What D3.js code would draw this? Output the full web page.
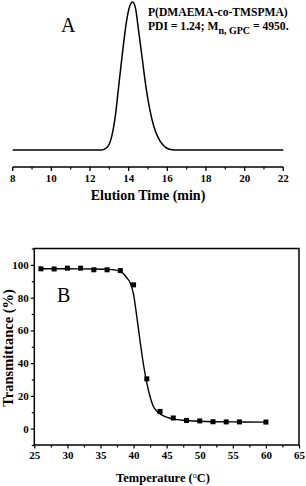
<!DOCTYPE html>
<html>
<head>
<meta charset="utf-8">
<script src="https://cdn.jsdelivr.net/npm/d3@7"></script>
<style>
  body { margin: 0; background: #fff; }
  svg { display: block; }
  text { font-family: "Liberation Serif", "Times New Roman", serif; fill: #000; }
</style>
</head>
<body>
<svg id="chart" width="306" height="486"></svg>
<script>
// panel A: GPC trace (elution time in min, normalised signal)
const gpcTime   = [8, 12.6, 12.9, 13.1, 13.3, 13.5, 13.7, 13.9, 14.05, 14.2, 14.35, 14.5, 14.7, 14.9, 15.1, 15.3, 15.5, 15.8, 16.1, 16.4, 22];
const gpcSignal = [0, 0, 0.02, 0.08, 0.22, 0.45, 0.68, 0.88, 0.97, 1.0, 0.96, 0.82, 0.62, 0.42, 0.27, 0.16, 0.09, 0.03, 0.005, 0, 0];
const gpcTicks  = [8, 10, 12, 14, 16, 18, 20, 22];

// panel B: transmittance vs temperature
const tempPoints  = [26, 28, 30, 32, 34, 36, 38, 40, 42, 44, 46, 48, 50, 52, 54, 56, 60];
const transPoints = [97.6, 97.5, 98, 98, 97, 97, 96.5, 87.8, 30.4, 10.5, 6.5, 5.0, 4.7, 4.2, 4.1, 4.1, 4.0];
const fitTemp  = [26, 30, 34, 36, 37, 38, 38.5, 39, 39.5, 40, 40.5, 41, 41.5, 42, 42.5, 43, 43.5, 44, 45, 46, 48, 50, 55, 60];
const fitTrans = [97.6, 97.6, 97.5, 97.3, 97, 96, 94.5, 92, 89, 82, 68, 53, 39, 28, 19.5, 13.5, 10.8, 9, 7, 5.8, 5.0, 4.5, 4.1, 4.0];
const tempTicks  = [25, 30, 35, 40, 45, 50, 55, 60, 65];
const transTicks = [0, 20, 40, 60, 80, 100];

const svg = d3.select('#chart');

// ---------- panel A ----------
let xA = d3.scaleLinear().domain([8, 22]).range([12.7, 283.3]);
let yA = d3.scaleLinear().domain([0, 1]).range([150, 2]);

let axisA = svg.append('g').attr('transform', 'translate(0,167)');
axisA.append('line')
  .attr('x1', xA(8)).attr('x2', xA(22))
  .attr('stroke', '#000').attr('stroke-width', 1.5);
axisA.selectAll('.major').data(gpcTicks)
  .enter().append('line')
  .attr('x1', d => xA(d)).attr('x2', d => xA(d))
  .attr('y1', 0).attr('y2', 4)
  .attr('stroke', '#000').attr('stroke-width', 1.3);
axisA.selectAll('.minor').data(d3.range(9, 22, 2))
  .enter().append('line')
  .attr('x1', d => xA(d)).attr('x2', d => xA(d))
  .attr('y1', 0).attr('y2', 2.5)
  .attr('stroke', '#000').attr('stroke-width', 1.2);
axisA.selectAll('text').data(gpcTicks)
  .enter().append('text')
  .attr('x', d => xA(d)).attr('y', 15)
  .attr('text-anchor', 'middle')
  .style('font-size', '11px').style('font-weight', 'bold')
  .text(d => d);

svg.append('text')
  .attr('x', 148).attr('y', 200)
  .attr('text-anchor', 'middle')
  .style('font-size', '14px').style('font-weight', 'bold')
  .text('Elution Time (min)');

let gpcData = gpcTime.map((t, i) => ({ x: t, y: gpcSignal[i] }));
svg.append('path')
  .datum(gpcData)
  .attr('d', d3.line().x(d => xA(d.x)).y(d => yA(d.y)).curve(d3.curveMonotoneX))
  .attr('fill', 'none').attr('stroke', '#000').attr('stroke-width', 1.5);

svg.append('text')
  .attr('x', 61).attr('y', 32)
  .style('font-size', '20px')
  .text('A');

svg.append('text')
  .attr('x', 148).attr('y', 16)
  .style('font-size', '11.6px').style('font-weight', 'bold')
  .text('P(DMAEMA-co-TMSPMA)');

let info = svg.append('text')
  .attr('x', 148).attr('y', 30)
  .style('font-size', '11.6px').style('font-weight', 'bold');
info.append('tspan').text('PDI = 1.24; M');
info.append('tspan').attr('dy', 4).style('font-size', '10px').text('n, GPC');
info.append('tspan').attr('dy', -4).text(' = 4950.');

// ---------- panel B ----------
let xB = d3.scaleLinear().domain([25, 65]).range([34.3, 299]);
let yB = d3.scaleLinear().domain([-10, 110]).range([445, 248.5]);

svg.append('rect')
  .attr('x', xB(25)).attr('y', yB(110))
  .attr('width', xB(65) - xB(25)).attr('height', yB(-10) - yB(110))
  .attr('fill', 'none').attr('stroke', '#000').attr('stroke-width', 1.5);

let bottomAxis = d3.axisBottom(xB).tickValues(tempTicks).tickSize(3.5).tickSizeOuter(0).tickPadding(2.5);
let gx = svg.append('g').attr('transform', `translate(0,${yB(-10)})`).call(bottomAxis);
gx.select('.domain').remove();
svg.append('g').attr('transform', `translate(0,${yB(-10)})`)
  .call(d3.axisBottom(xB).tickValues(d3.range(27.5, 65, 5)).tickSize(2.5).tickFormat(''))
  .select('.domain').remove();

let leftAxis = d3.axisLeft(yB).tickValues(transTicks).tickSize(3.5).tickPadding(2);
let gy = svg.append('g').attr('transform', `translate(${xB(25)},0)`).call(leftAxis);
gy.select('.domain').remove();
svg.append('g').attr('transform', `translate(${xB(25)},0)`)
  .call(d3.axisLeft(yB).tickValues(d3.range(-10, 111, 20)).tickSize(2.5).tickFormat(''))
  .select('.domain').remove();

svg.selectAll('.tick line').attr('stroke', '#000').attr('stroke-width', 1.2);
svg.selectAll('.tick text')
  .style('font-family', '"Liberation Serif", "Times New Roman", serif')
  .style('font-size', '11px').style('font-weight', 'bold').attr('fill', '#000');

let fitData = fitTemp.map((t, i) => ({ x: t, y: fitTrans[i] }));
svg.append('path')
  .datum(fitData)
  .attr('d', d3.line().x(d => xB(d.x)).y(d => yB(d.y)).curve(d3.curveMonotoneX))
  .attr('fill', 'none').attr('stroke', '#000').attr('stroke-width', 1.4);

svg.selectAll('.pt').data(tempPoints)
  .enter().append('rect')
  .attr('class', 'pt')
  .attr('x', (d) => xB(d) - 2.5)
  .attr('y', (d, i) => yB(transPoints[i]) - 2.5)
  .attr('width', 5).attr('height', 5)
  .attr('fill', '#000');

svg.append('text')
  .attr('x', 57).attr('y', 302)
  .style('font-size', '20px')
  .text('B');

svg.append('text')
  .attr('transform', 'translate(12.5,348) rotate(-90)')
  .attr('text-anchor', 'middle')
  .style('font-size', '14.5px').style('font-weight', 'bold')
  .text('Transmittance (%)');

let xt = svg.append('text')
  .attr('x', 163).attr('y', 482)
  .attr('text-anchor', 'middle')
  .style('font-size', '12.5px').style('font-weight', 'bold');
xt.append('tspan').text('Temperature (');
xt.append('tspan').attr('dy', -4).style('font-size', '8px').style('font-weight', 'normal').text('o');
xt.append('tspan').attr('dy', 4).text('C)');
</script>
</body>
</html>
